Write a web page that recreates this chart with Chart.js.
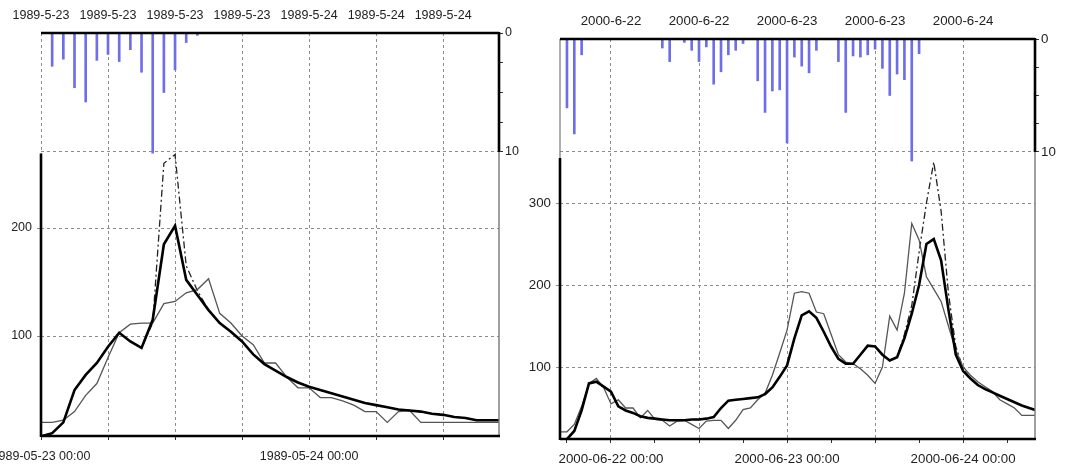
<!DOCTYPE html>
<html>
<head>
<meta charset="utf-8">
<script src="https://cdn.jsdelivr.net/npm/chart.js@4.4.1/dist/chart.umd.min.js"></script>
<style>
  html, body { margin: 0; padding: 0; background: #fff; }
  #wrap { position: relative; width: 1066px; height: 468px; overflow: hidden; }
  canvas { position: absolute; top: 0; }
  #left { left: 0; }
  #right { left: 528px; }
</style>
</head>
<body>
<div id="wrap">
  <canvas id="left" width="528" height="468"></canvas>
  <canvas id="right" width="538" height="468"></canvas>
</div>
<script>
// ---------- event 1: 1989-05-23 (hourly, hour 0 = 05-23 00:00) ----------
const leftTopLabels = ['1989-5-23', '1989-5-23', '1989-5-23', '1989-5-23', '1989-5-24', '1989-5-24', '1989-5-24'];
const leftBottomLabels = ['1989-05-23 00:00', '1989-05-24 00:00'];
const leftRainHours = [1, 2, 3, 4, 5, 6, 7, 8, 9, 10, 11, 12, 13, 14];
const leftRain = [2.8, 2.2, 4.6, 5.8, 2.3, 1.8, 2.4, 1.4, 3.3, 10.1, 5.0, 3.1, 0.8, 0.2];
const leftObserved = [20, 20, 22, 30, 45, 56, 80, 103, 111, 112, 112, 130, 132, 140, 143, 153, 121, 112,
  100, 92, 75, 75, 62, 52, 52, 43, 43, 40, 36, 30, 30, 20, 30, 31, 20, 20, 20, 20, 20, 20, 20, 20];
const leftSimulated = [7, 10, 20, 50, 64, 75, 90, 103, 95, 89, 115, 185, 202, 152, 138, 124, 112, 104,
  95, 83, 74, 68, 62, 57, 53, 50, 47, 44, 41, 38, 36, 34, 32, 31, 30, 28, 27, 25, 24, 22, 22, 22];
const leftDashed = [7, 10, 20, 50, 64, 75, 90, 103, 95, 89, 112, 260, 268, 165, 142, 124, 112, 104,
  95, 83, 74, 68, 62, 57, 53, 50, 47, 44, 41, 38, 36, 34, 32, 31, 30, 28, 27, 25, 24, 22, 22, 22];

// ---------- event 2: 2000-06-22 (hourly, hour 0 = 06-22 00:00) ----------
const rightTopLabels = ['2000-6-22', '2000-6-22', '2000-6-23', '2000-6-23', '2000-6-24'];
const rightBottomLabels = ['2000-06-22 00:00', '2000-06-23 00:00', '2000-06-24 00:00'];
const rightRainHours = [-6, -5, -4, 7, 8, 10, 11, 12, 13, 14, 15, 16, 17, 18, 20, 21, 22, 23, 24, 25, 26, 27, 28,
  31, 32, 33, 34, 35, 36, 37, 38, 39, 40, 41, 42];
const rightRain = [6.1, 8.4, 1.4, 0.8, 2.0, 0.3, 1.0, 2.0, 0.7, 4.0, 2.9, 1.4, 1.0, 0.4, 3.7, 6.5, 4.6, 4.5, 9.2, 1.6,
  2.4, 3.0, 1.0, 2.0, 6.5, 1.5, 1.6, 1.4, 0.9, 2.6, 5.0, 3.1, 3.6, 10.8, 1.3];
const rightStartHour = -7;
const rightObserved = [21, 21, 30, 52, 80, 86, 75, 55, 60, 50, 50, 38, 47, 36, 35, 28, 34, 35, 30, 25, 34, 35,
  35, 25, 35, 48, 50, 60, 68, 90, 117, 145, 190, 192, 190, 167, 165, 140, 115, 106, 104, 98, 90, 80, 100, 162,
  145, 190, 275, 255, 210, 195, 180, 150, 120, 100, 90, 82, 76, 70, 60, 55, 50, 41, 41, 41];
const rightSimulated = [null, 12, 22, 47, 80, 82, 76, 70, 52, 47, 44, 40, 38, 37, 36, 35, 35, 35, 36, 36, 37, 39,
  50, 59, 60, 61, 62, 63, 67, 75, 88, 102, 135, 163, 168, 160, 143, 125, 110, 104, 104, 115, 126, 125, 115, 108,
  112, 135, 165, 200, 250, 256, 230, 170, 115, 95, 86, 78, 73, 69, 65, 61, 57, 53, 50, 47];
const rightDashed = [null, 12, 22, 47, 80, 82, 76, 70, 52, 47, 44, 40, 38, 37, 36, 35, 35, 35, 36, 36, 37, 39,
  50, 59, 60, 61, 62, 63, 67, 75, 88, 102, 135, 163, 168, 160, 143, 125, 110, 104, 104, 115, 126, 125, 115, 108,
  112, 140, 175, 240, 300, 350, 290, 190, 125, 98, 86, 78, 73, 69, 65, 61, 57, 53, 50, 47];

Chart.defaults.font.family = '"Liberation Sans", Arial, sans-serif';
Chart.defaults.color = '#222';
Chart.defaults.animation = false;

const GRID = '#8c8c8c';
const NONE = 'rgba(0,0,0,0)';

const framePlugin = {
  id: 'frame',
  afterDatasetsDraw(chart, args, opts) {
    const { ctx, chartArea: a, scales } = chart;
    const flowY = scales.yFlow.getPixelForValue(opts.flowTop);
    const rainY = scales.yRain.getPixelForValue(10);
    const seg = (x1, y1, x2, y2, color, w) => {
      ctx.strokeStyle = color;
      ctx.lineWidth = w;
      ctx.beginPath();
      ctx.moveTo(x1, y1);
      ctx.lineTo(x2, y2);
      ctx.stroke();
    };
    ctx.save();
    if (opts.leftThin) seg(a.left, a.top, a.left, flowY, '#777', 1.2);
    seg(a.left, flowY, a.left, a.bottom + 1, '#000', 2.6);
    seg(a.right, rainY, a.right, a.bottom, '#777', 1.4);
    seg(a.right, a.top - 1, a.right, rainY, '#000', 2.6);
    seg(a.left, a.top, a.right, a.top, '#000', 2.4);
    seg(a.left, a.bottom, a.right + 1, a.bottom, '#000', 2.6);
    ctx.restore();
  }
};

function pts(start, values) {
  return values.map((v, i) => ({ x: start + i, y: v }));
}

function fix(w, h) {
  return s => {
    if (w !== null) s.width = w;
    if (h !== null) s.height = h;
    s.paddingLeft = 0; s.paddingRight = 0; s.paddingTop = 0; s.paddingBottom = 0;
  };
}

function makePanel(el, cfg) {
  const flowTop = cfg.flowTop;
  const font = { size: cfg.fontSize };
  return new Chart(el, {
    type: 'line',
    data: {
      datasets: [
        { data: pts(cfg.start, cfg.sim), borderColor: '#000', borderWidth: 2.6, yAxisID: 'yFlow' },
        { data: pts(cfg.start, cfg.obs), borderColor: '#555', borderWidth: 1.3, yAxisID: 'yFlow' },
        { data: pts(cfg.start, cfg.dash), borderColor: '#222', borderWidth: 1.3, borderDash: [7, 3, 2, 3], yAxisID: 'yFlow' },
        {
          type: 'bar',
          data: cfg.rainHours.map((h, i) => ({ x: h, y: cfg.rain[i] })),
          backgroundColor: '#6e6ee8',
          barThickness: 2,
          borderWidth: 0,
          yAxisID: 'yRain'
        }
      ]
    },
    options: {
      responsive: false,
      devicePixelRatio: 1,
      layout: { padding: 0 },
      elements: { point: { radius: 0 }, line: { tension: 0 } },
      plugins: {
        legend: { display: false },
        tooltip: { enabled: false },
        frame: { flowTop: flowTop, leftThin: cfg.leftThin }
      },
      scales: {
        x: {
          type: 'linear', position: 'bottom', min: cfg.xMin, max: cfg.xMax, offset: false,
          afterFit: fix(null, cfg.bottomH),
          grid: {
            offset: false,
            color: c => (c.tick && c.tick.value % cfg.gridStep === 0) ? GRID : NONE,
            tickColor: '#333', tickLength: 4, lineWidth: 1
          },
          border: { display: false, dash: [3, 3] },
          ticks: {
            stepSize: cfg.tickStep, autoSkip: false, maxRotation: 0, includeBounds: false,
            maxTicksLimit: 1000, padding: cfg.bottomPad, font: font,
            callback: v => v % 24 === 0 ? cfg.bottomLabels[v / 24] : ''
          }
        },
        xTop: {
          type: 'linear', position: 'top', min: cfg.xMin, max: cfg.xMax, offset: false,
          afterFit: fix(null, cfg.topH),
          grid: { display: true, offset: false, drawOnChartArea: false, drawTicks: false },
          border: { display: false },
          ticks: {
            stepSize: cfg.topStep, autoSkip: false, maxRotation: 0, includeBounds: false,
            maxTicksLimit: 1000, padding: cfg.topPad, font: font,
            callback: v => cfg.topLabels[v / cfg.topStep]
          }
        },
        yFlow: {
          type: 'linear', position: 'left', min: cfg.flowMin, max: cfg.flowMax,
          afterFit: fix(cfg.leftW, null),
          grid: {
            color: c => (c.tick && c.tick.value <= flowTop) ? GRID : NONE,
            tickColor: c => (c.tick && c.tick.value <= flowTop) ? GRID : NONE,
            tickLength: 4
          },
          border: { display: false, dash: [3, 3] },
          ticks: {
            stepSize: 100, includeBounds: false, maxTicksLimit: 1000, padding: 5, font: font,
            callback: v => v <= flowTop ? String(v) : ''
          }
        },
        yRain: {
          type: 'linear', position: 'right', reverse: true, min: 0, max: cfg.rainMax,
          afterFit: fix(cfg.rightW, null),
          grid: {
            color: c => (c.tick && c.tick.value === 10) ? GRID : NONE,
            tickColor: c => (c.tick && c.tick.value <= 10) ? '#333' : NONE,
            tickLength: 4
          },
          border: { display: false, dash: [3, 3] },
          ticks: {
            stepSize: 2.5, includeBounds: false, maxTicksLimit: 1000, padding: 2, font: font,
            callback: v => (v === 0 || v === 10) ? String(v) : ''
          }
        }
      }
    },
    plugins: [framePlugin]
  });
}

makePanel(document.getElementById('left'), {
  start: 0, obs: leftObserved, sim: leftSimulated, dash: leftDashed,
  rainHours: leftRainHours, rain: leftRain,
  topLabels: leftTopLabels, bottomLabels: leftBottomLabels,
  xMin: 0, xMax: 41, tickStep: 6, gridStep: 6, topStep: 6,
  flowMin: 7.4, flowMax: 380.6, flowTop: 269, rainMax: 33.87,
  leftW: 41, rightW: 29, topH: 33, bottomH: 32, topPad: 9.5, bottomPad: 9.5,
  fontSize: 12.5, leftThin: false
});

makePanel(document.getElementById('right'), {
  start: rightStartHour, obs: rightObserved, sim: rightSimulated, dash: rightDashed,
  rainHours: rightRainHours, rain: rightRain,
  topLabels: rightTopLabels, bottomLabels: rightBottomLabels,
  xMin: -6.95, xMax: 57.8, tickStep: 6, gridStep: 12, topStep: 12,
  flowMin: 12.2, flowMax: 500, flowTop: 355, rainMax: 35.4,
  leftW: 32, rightW: 31, topH: 39, bottomH: 29, topPad: 10, bottomPad: 8.5,
  fontSize: 13.3, leftThin: true
});
</script>
</body>
</html>
